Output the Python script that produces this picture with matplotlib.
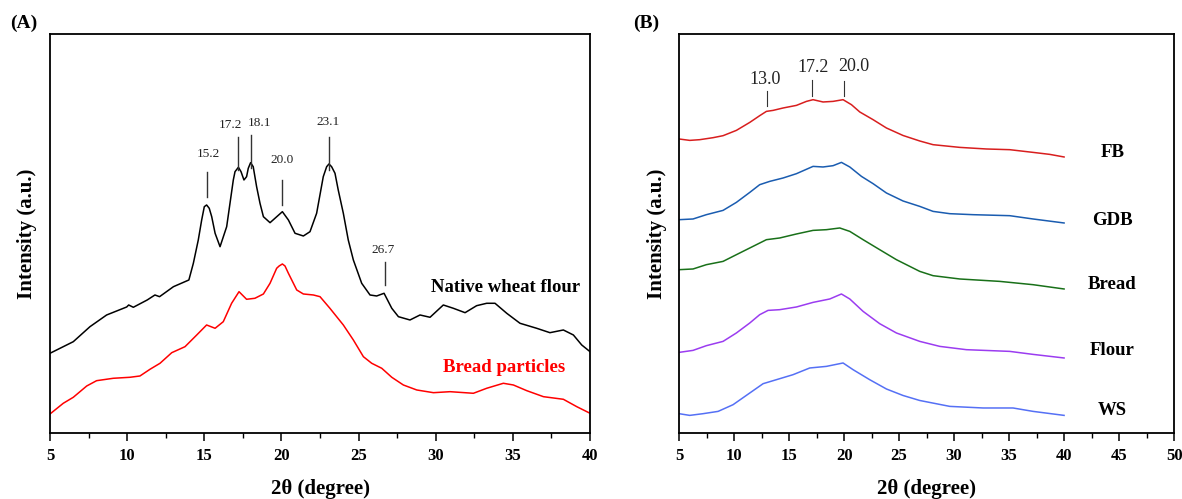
import numpy as np
import matplotlib
matplotlib.use('Agg')
import matplotlib.pyplot as plt
from matplotlib.ticker import MultipleLocator

plt.rcParams['font.family'] = ['Liberation Serif', 'DejaVu Serif']

# ---- (A) native wheat flour vs bread particles ----
a_flour_x = [5.0, 6.51, 7.59, 8.67, 9.97, 10.1, 10.4, 11.3, 11.8, 12.1, 13.0, 14.0,
             14.29, 14.61, 14.83, 15.0, 15.15, 15.32, 15.48, 15.7, 16.02, 16.45,
             16.88, 16.99, 17.21, 17.38, 17.57, 17.74, 17.85, 18.0, 18.17, 18.39,
             18.61, 18.83, 19.26, 19.58, 20.06, 20.45, 20.88, 21.42, 21.85,
             22.28, 22.71, 22.93, 23.08, 23.25, 23.47, 23.68, 24.01, 24.33, 24.66,
             25.2, 25.74, 26.17, 26.65, 27.15, 27.58, 28.33, 28.98, 29.63, 30.49,
             31.14, 31.9, 32.65, 33.3, 33.84, 34.6, 35.46, 36.54, 37.4, 38.27,
             38.92, 39.46, 40.0]
a_flour_y = [79.7, 91.3, 106.3, 118, 126, 128, 125.7, 133, 138, 136.3, 146.3, 153,
             169.7, 193, 213, 226.3, 228, 224.7, 216.3, 199.7, 186.3, 206.3,
             253, 261.3, 265.7, 261.3, 253, 256.3, 264.7, 270.3, 266.3, 246.3,
             229.7, 216.3, 210.3, 214.7, 221.3, 213, 199.7, 197, 201.3,
             219.7, 256.3, 266.3, 269, 266.3, 259.7, 243, 219.7, 193, 173,
             149.7, 138, 137, 139.7, 124.7, 116.3, 113, 118, 115.7, 128,
             124.7, 120.3, 127.3, 129.7, 129.7, 119.7, 109.7, 104.7, 100.3, 103,
             98, 88, 81.3]

a_bread_x = [5.0, 5.86, 6.51, 7.38, 8.02, 9.1, 10.18, 10.83, 11.48, 12.13, 12.89,
             13.75, 14.51, 15.15, 15.7, 16.23, 16.77, 17.25, 17.74, 18.28, 18.83,
             19.26, 19.69, 19.85, 20.06, 20.23, 20.45, 20.99, 21.42, 22.07, 22.5,
             23.14, 24.01, 24.66, 25.31, 25.85, 26.5, 27.15, 27.9, 28.77, 29.85,
             30.93, 32.44, 33.3, 34.38, 35.03, 35.9, 36.98, 38.27, 39.14, 40.0]
a_bread_y = [19, 29.7, 35.7, 47, 52.3, 54.7, 55.7, 57, 63.7, 69.7, 80.3,
             86.3, 98, 108, 104.7, 111.3, 129.7, 141.3, 133.7, 134.7, 139,
             149.7, 164.7, 167, 169, 167, 159.7, 143, 139, 138, 136.3,
             124.7, 108, 93, 76.3, 69.7, 64.7, 55.7, 48, 43, 40.3,
             41.3, 39.7, 44.7, 49.7, 48, 42.3, 36.3, 33.7, 26.3, 19.7]

a_peaks = ['15.2', '17.2', '18.1', '20.0', '23.1', '26.7']
a_peak_x = [15.15, 17.2, 18.05, 20.05, 23.1, 26.7]
a_line_lo = [236, 263, 265, 228, 263, 148]
a_line_hi = [261, 296, 298, 253, 296, 171]
a_text_x = [15.28, 16.67, 18.6, 20.07, 23.0, 26.6]
a_text_y = [279, 308, 310, 273, 311, 183]

# ---- (B) five samples, stacked ----
b_names = ['FB', 'GDB', 'Bread', 'Flour', 'WS']
b_colors = ['#d81e1e', '#1a5cb0', '#197019', '#9b3cf0', '#5570f5']

fb_x = [5.0, 5.97, 6.88, 8.09, 9.0, 10.21, 11.43, 12.33, 12.94, 13.55, 14.46, 15.67,
        16.58, 17.18, 18.09, 19.0, 19.91, 20.67, 21.43, 22.64, 23.85, 25.36, 26.88,
        28.09, 30.52, 32.94, 35.06, 37.18, 38.7, 40.0]
fb_y = [294, 292.6, 293.3, 295.3, 297.3, 302.6, 310.6, 317.3, 321.6, 322.6, 325, 327.6,
        331.6, 333.3, 331, 331.6, 333.3, 328.3, 321, 313.3, 305, 297.5, 292,
        288.3, 285.6, 284, 283.3, 280.6, 278.6, 276]

gdb_x = [5.0, 6.27, 7.48, 9.0, 10.21, 11.43, 12.33, 13.24, 14.46, 15.67, 17.18, 18.09,
         19.0, 19.76, 20.52, 21.58, 22.64, 23.85, 25.36, 26.88, 28.09, 29.61, 31.73,
         35.06, 37.18, 40.0]
gdb_y = [213.3, 214, 218.3, 222.6, 230.6, 240.6, 248.3, 251.6, 255, 259.3, 266.6, 266,
         267.3, 270.6, 266, 256.6, 249.3, 240, 232, 226.6, 221.6, 219.3, 218.3,
         217.3, 214, 210]

bread_x = [5.0, 6.27, 7.48, 9.0, 10.21, 11.43, 12.94, 14.15, 15.67, 17.18, 18.39, 19.61,
           20.52, 21.73, 23.24, 24.76, 26.88, 28.09, 30.52, 34.15, 37.18, 40.0]
bread_y = [163.3, 164, 168.3, 171.6, 178.3, 185, 193.3, 195, 199, 202.6, 203.3, 205,
           201.6, 193.3, 183.3, 173.3, 161.6, 157.3, 154, 151.6, 148.3, 144]

flour_x = [5.0, 6.27, 7.48, 9.0, 10.21, 11.43, 12.33, 13.09, 14.15, 15.67, 17.18, 18.7,
           19.76, 20.52, 21.73, 23.24, 24.76, 26.88, 28.7, 31.12, 35.06, 37.18, 40.0]
flour_y = [80.6, 82.6, 87.3, 91.6, 100, 110, 118.3, 122.6, 123.3, 126, 130.6, 134,
           139, 134, 121.6, 109.3, 100, 91.6, 86.6, 83.3, 81.6, 78.6, 75]

ws_x = [5.0, 5.97, 7.18, 8.55, 9.91, 11.43, 12.64, 13.85, 15.36, 16.88, 18.39, 19.91,
        20.82, 22.33, 23.85, 25.36, 26.88, 29.61, 32.64, 35.36, 37.18, 40.0]
ws_y = [19.3, 17.6, 19.3, 21.6, 28.3, 40, 49.3, 53.3, 58.3, 65, 66.6, 70,
        63.3, 53.3, 44, 37.5, 32.5, 26.6, 25, 25, 21.6, 17.6]

b_label_y = [280.3, 212.6, 148.3, 82.6, 22.6]

b_peaks = ['13.0', '17.2', '20.0']
b_peak_x = [13.0, 17.1, 20.0]
b_line_lo = [326.6, 337.3, 337.3]
b_line_hi = [341.6, 352.6, 351.6]
b_text_x = [12.8, 17.2, 20.9]
b_text_y = [353, 365, 366]


def style_axes(ax, xmax):
    ax.set_xlim(5, xmax)
    ax.set_ylim(0, 399)
    ax.set_yticks([])
    ax.xaxis.set_major_locator(MultipleLocator(5))
    ax.xaxis.set_minor_locator(MultipleLocator(2.5))
    ax.tick_params(axis='x', which='major', direction='out', length=5.5, width=1.1,
                   labelsize=12, pad=5)
    ax.tick_params(axis='x', which='minor', direction='out', length=3.5, width=1.0)
    for lab in ax.get_xticklabels():
        lab.set_fontweight('bold')
    for sp in ax.spines.values():
        sp.set_linewidth(1.3)
    ax.set_xlabel('2θ (degree)', fontsize=15, fontweight='bold', labelpad=11)
    ax.set_ylabel('Intensity (a.u.)', fontsize=15, fontweight='bold', labelpad=9)


fig = plt.figure(figsize=(11.82, 4.99), dpi=100)
ax1 = fig.add_axes([0.0423, 0.1323, 0.4569, 0.7996])
ax2 = fig.add_axes([0.5745, 0.1323, 0.4188, 0.7996])

# panel A
ax1.plot(a_flour_x, a_flour_y, color='black', lw=1.1)
ax1.plot(a_bread_x, a_bread_y, color='#ff0000', lw=1.1)
for lab, x, lo, hi, tx, ty in zip(a_peaks, a_peak_x, a_line_lo, a_line_hi,
                                  a_text_x, a_text_y):
    ax1.plot([x, x], [lo, hi], color='#333333', lw=1.0)
    ax1.text(tx, ty, lab, ha='center', va='center', fontsize=9.5, color='#222222')
ax1.text(29.7, 145, 'Native wheat flour', fontsize=13.5, fontweight='bold',
         ha='left', va='center')
ax1.text(30.47, 65, 'Bread particles', fontsize=13.5, fontweight='bold',
         ha='left', va='center', color='#ff0000')
style_axes(ax1, 40)
ax1.text(-0.074, 1.027, '(A)', transform=ax1.transAxes, fontsize=14,
         fontweight='bold', ha='left', va='center')

# panel B
b_xs = [fb_x, gdb_x, bread_x, flour_x, ws_x]
b_ys = [fb_y, gdb_y, bread_y, flour_y, ws_y]
for name, col, xs, ys, ly in zip(b_names, b_colors, b_xs, b_ys, b_label_y):
    ax2.plot(xs, ys, color=col, lw=1.1)
    ax2.text(44.4, ly, name, fontsize=13.5, fontweight='bold', ha='center', va='center')
for lab, x, lo, hi, tx, ty in zip(b_peaks, b_peak_x, b_line_lo, b_line_hi,
                                  b_text_x, b_text_y):
    ax2.plot([x, x], [lo, hi], color='#333333', lw=0.8)
    ax2.text(tx, ty, lab, ha='center', va='center', fontsize=13, color='#222222')
style_axes(ax2, 50)
ax2.text(-0.093, 1.027, '(B)', transform=ax2.transAxes, fontsize=14,
         fontweight='bold', ha='left', va='center')

fig.savefig('out.png', dpi=100)
